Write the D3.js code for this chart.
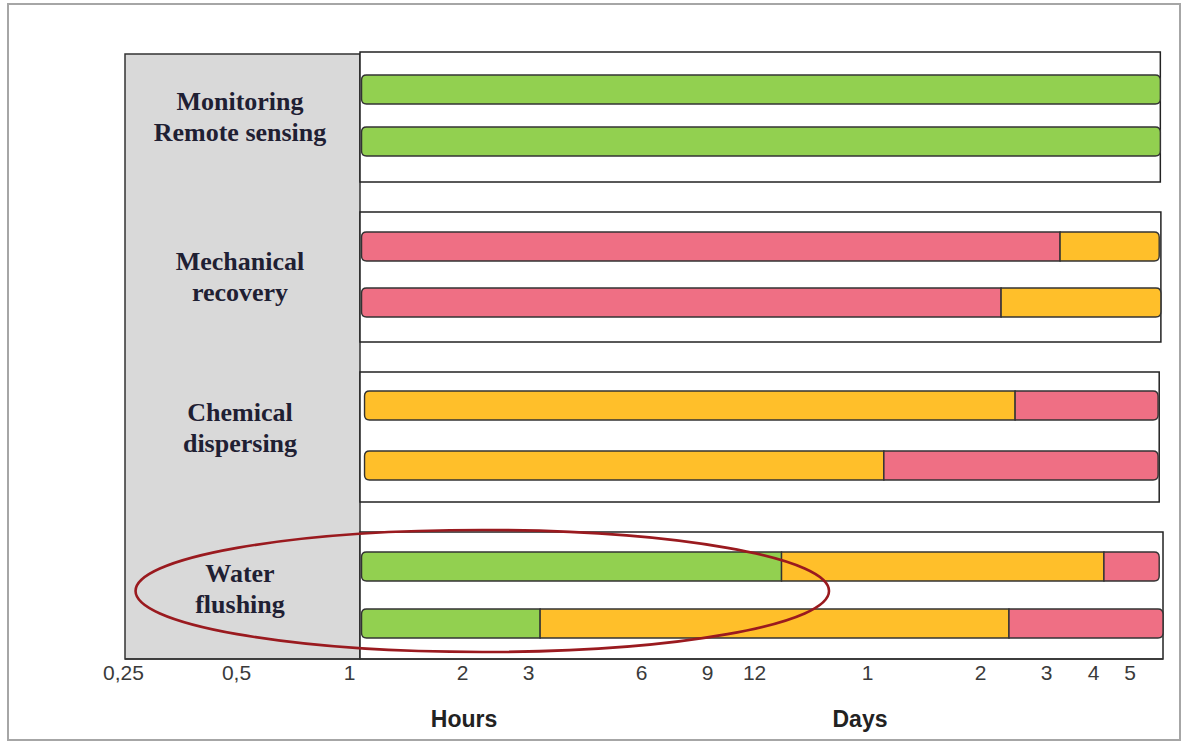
<!DOCTYPE html>
<html>
<head>
<meta charset="utf-8">
<script src="https://cdn.jsdelivr.net/npm/d3@7"></script>
<style>
  html, body { margin: 0; padding: 0; background: #ffffff; }
  svg { display: block; }
</style>
</head>
<body>
<svg id="chart" width="1182" height="742"></svg>
<script>
// ---------------- DATA ----------------
const categories = ["Monitoring Remote sensing", "Mechanical recovery", "Chemical dispersing", "Water flushing"];
const labelLines = [["Monitoring", "Remote sensing"], ["Mechanical", "recovery"], ["Chemical", "dispersing"], ["Water", "flushing"]];
// two rows per category; time in hours (log scale)
const rowCategory = [0, 0, 1, 1, 2, 2, 3, 3];
const rowStart    = [1.08, 1.08, 1.08, 1.08, 1.1, 1.1, 1.08, 1.08];
const rowBreaks   = [[145], [145], [78.4, 144], [54.6, 145.5], [59.5, 143], [26.6, 143], [14.2, 102.6, 144], [3.23, 57.3, 147.4]];
const rowStatus   = [["good"], ["good"], ["poor", "fair"], ["poor", "fair"], ["fair", "poor"], ["fair", "poor"], ["good", "fair", "poor"], ["good", "fair", "poor"]];
const tickHours   = [0.25, 0.5, 1, 2, 3, 6, 9, 12, 24, 48, 72, 96, 120];
const tickLabels  = ["0,25", "0,5", "1", "2", "3", "6", "9", "12", "1", "2", "3", "4", "5"];
const axisTitles  = ["Hours", "Days"];
const statuses    = ["good", "fair", "poor"];
const highlightCategory = 3;
const highlightSpan = [0.27, 19]; // hours covered by the highlight ellipse

// ---------------- LAYOUT ----------------
const svg = d3.select("#chart");
const panelLeft = 125, panelTop = 54, axisY = 659;

const x = d3.scaleLog().base(2).domain([0.25, 144]).range([123, 1159.2]);
const y = d3.scaleBand().domain(categories).range([52, 662]).paddingInner(30 / 160).paddingOuter(0);
const color = d3.scaleOrdinal().domain(statuses).range(["#92D050", "#FFBF2A", "#EF6F84"]);

const boxLeft = 360;
const rowOffsets = [[23, 75], [20, 76], [19, 79], [20, 77]];
const barH = 29;
const labelOffsets = [58, 58, 49, 50];
const lineGap = 30.5;

// outer frame
svg.append("rect").attr("x", 8).attr("y", 4).attr("width", 1172).attr("height", 736)
  .attr("fill", "#ffffff").attr("stroke", "#a6a6a6").attr("stroke-width", 2);

// grey label panel
svg.append("rect").attr("x", panelLeft).attr("y", panelTop)
  .attr("width", boxLeft - panelLeft).attr("height", axisY - panelTop)
  .attr("fill", "#d9d9d9").attr("stroke", "#333").attr("stroke-width", 1.5);

// group boxes
categories.forEach((c, i) => {
  const ends = rowBreaks.filter((b, r) => rowCategory[r] === i).map(b => b[b.length - 1]);
  const right = x(Math.max(144, d3.max(ends)));
  const top = y(c);
  const bottom = i === categories.length - 1 ? axisY : top + y.bandwidth();
  svg.append("rect").attr("x", boxLeft).attr("y", top)
    .attr("width", right - boxLeft).attr("height", bottom - top)
    .attr("fill", "#ffffff").attr("stroke", "#222").attr("stroke-width", 1.5);
});

// labels
const labels = svg.append("g").attr("font-family", "'Liberation Serif', 'Times New Roman', serif")
  .attr("font-weight", "bold").attr("font-size", 26).attr("fill", "#1f2033").attr("text-anchor", "middle");
categories.forEach((c, i) => {
  labelLines[i].forEach((t, k) => {
    labels.append("text").attr("x", 240).attr("y", y(c) + labelOffsets[i] + k * lineGap).text(t);
  });
});

// bar segment path with optional rounded ends
function segPath(x0, x1, y0, h, roundL, roundR) {
  const r = 5;
  const rl = roundL ? r : 0, rr = roundR ? r : 0;
  return `M${x0 + rl},${y0} L${x1 - rr},${y0} ` +
    (rr ? `Q${x1},${y0} ${x1},${y0 + rr} L${x1},${y0 + h - rr} Q${x1},${y0 + h} ${x1 - rr},${y0 + h} ` : `L${x1},${y0 + h} `) +
    `L${x0 + rl},${y0 + h} ` +
    (rl ? `Q${x0},${y0 + h} ${x0},${y0 + h - rl} L${x0},${y0 + rl} Q${x0},${y0} ${x0 + rl},${y0} Z` : `L${x0},${y0} Z`);
}

const bars = svg.append("g");
rowCategory.forEach((ci, r) => {
  const within = rowCategory.slice(0, r).filter(v => v === ci).length;
  const top = y(categories[ci]) + rowOffsets[ci][within];
  const edges = [rowStart[r]].concat(rowBreaks[r]);
  rowStatus[r].forEach((s, k) => {
    const x0 = x(edges[k]), x1 = x(edges[k + 1]);
    bars.append("path")
      .attr("d", segPath(x0, x1, top, barH, k === 0, k === rowStatus[r].length - 1))
      .attr("fill", color(s)).attr("stroke", "#333").attr("stroke-width", 1.4);
  });
});

// axis
svg.append("line").attr("x1", panelLeft).attr("x2", x(147.4)).attr("y1", axisY).attr("y2", axisY)
  .attr("stroke", "#333").attr("stroke-width", 1.5);
const axis = d3.axisBottom(x).tickValues(tickHours).tickSize(0).tickPadding(6)
  .tickFormat((d, i) => tickLabels[i]);
const gAxis = svg.append("g").attr("transform", `translate(0,${axisY})`).call(axis);
gAxis.select(".domain").remove();
gAxis.selectAll("text").attr("font-family", "'Liberation Sans', Arial, sans-serif")
  .attr("font-size", 21).attr("fill", "#3a3a3a");

// axis titles
const titleX = [464, 860];
axisTitles.forEach((t, i) => {
  svg.append("text").attr("x", titleX[i]).attr("y", 727).attr("text-anchor", "middle")
    .attr("font-family", "'Liberation Sans', Arial, sans-serif").attr("font-weight", "bold")
    .attr("font-size", 23).attr("fill", "#222").text(t);
});

// highlight ellipse around the water flushing group
const hlTop = y(categories[highlightCategory]);
const exL = x(highlightSpan[0]), exR = x(highlightSpan[1]);
svg.append("ellipse")
  .attr("cx", (exL + exR) / 2).attr("cy", hlTop + 59)
  .attr("rx", (exR - exL) / 2).attr("ry", 61)
  .attr("fill", "none").attr("stroke", "#9a1a1f").attr("stroke-width", 2.6);
</script>
</body>
</html>
